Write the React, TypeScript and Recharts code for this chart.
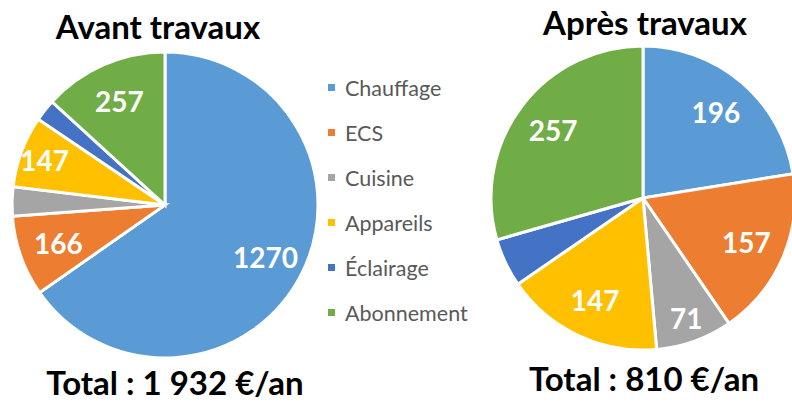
import React from 'react';
import { PieChart, Pie, Cell, Legend } from 'recharts';

const categories = ['Chauffage', 'ECS', 'Cuisine', 'Appareils', 'Éclairage', 'Abonnement'];
const colors = ['#5B9BD5', '#ED7D31', '#A5A5A5', '#FFC000', '#4472C4', '#70AD47'];
const avantValues = [1270, 166, 60, 147, 45, 257];
const apresValues = [196, 157, 71, 147, 45, 257];
const titles = ['Avant travaux', 'Après travaux'];
const totals = ['Total : 1 932 €/an', 'Total : 810 €/an'];

const avantData = categories.map((name, i) => ({ name, value: avantValues[i] }));
const apresData = categories.map((name, i) => ({ name, value: apresValues[i] }));

const FONT = 'Lato, "Open Sans", sans-serif';
const RADIAN = Math.PI / 180;

const renderLabel = (props: any) => {
  const { cx, cy, midAngle, outerRadius, percent, value } = props;
  if (percent < 0.06) return null;
  const r = outerRadius * (percent < 0.082 ? 0.84 : 0.74);
  const x = cx + r * Math.cos(-midAngle * RADIAN);
  const y = cy + r * Math.sin(-midAngle * RADIAN);
  return (
    <text
      x={x}
      y={y}
      fill="#fff"
      textAnchor="middle"
      dominantBaseline="central"
      style={{ fontFamily: FONT, fontWeight: 700, fontSize: 28 }}
    >
      {value}
    </text>
  );
};

const LegendContent = () => (
  <div style={{ fontFamily: FONT, fontSize: 21.5, color: '#595959' }}>
    {categories.map((name, i) => (
      <div key={name} style={{ display: 'flex', alignItems: 'center', height: 45 }}>
        <span style={{ width: 7, height: 7, background: colors[i], marginRight: 10 }} />
        <span>{name}</span>
      </div>
    ))}
  </div>
);

export default function App() {
  return (
    <div style={{ position: 'absolute', left: 0, top: 0, width: 792, height: 403, background: '#fff' }}>
      <PieChart width={792} height={403} margin={{ top: 0, right: 0, bottom: 0, left: 0 }}>
        <Pie
          data={avantData}
          dataKey="value"
          nameKey="name"
          cx={165}
          cy={205}
          outerRadius={153}
          startAngle={90}
          endAngle={-270}
          stroke="#fff"
          strokeWidth={3}
          label={renderLabel}
          labelLine={false}
          isAnimationActive={false}
        >
          {avantData.map((d, i) => (
            <Cell key={d.name} fill={colors[i]} />
          ))}
        </Pie>
        <Pie
          data={apresData}
          dataKey="value"
          nameKey="name"
          cx={643}
          cy={198}
          outerRadius={152}
          startAngle={90}
          endAngle={-270}
          stroke="#fff"
          strokeWidth={3}
          label={renderLabel}
          labelLine={false}
          isAnimationActive={false}
        >
          {apresData.map((d, i) => (
            <Cell key={d.name} fill={colors[i]} />
          ))}
        </Pie>
        <Legend
          content={<LegendContent />}
          wrapperStyle={{ position: 'absolute', left: 328, top: 65, width: 170, bottom: 'auto' }}
        />
      </PieChart>
      <svg
        width={792}
        height={403}
        style={{ position: 'absolute', left: 0, top: 0, pointerEvents: 'none' }}
      >
        <g style={{ fontFamily: FONT, fontWeight: 700, fontSize: 33 }} fill="#000">
          <text x={158} y={39} textAnchor="middle">{titles[0]}</text>
          <text x={645} y={35} textAnchor="middle">{titles[1]}</text>
          <text x={175} y={395} textAnchor="middle">{totals[0]}</text>
          <text x={644} y={391} textAnchor="middle">{totals[1]}</text>
        </g>
      </svg>
    </div>
  );
}
